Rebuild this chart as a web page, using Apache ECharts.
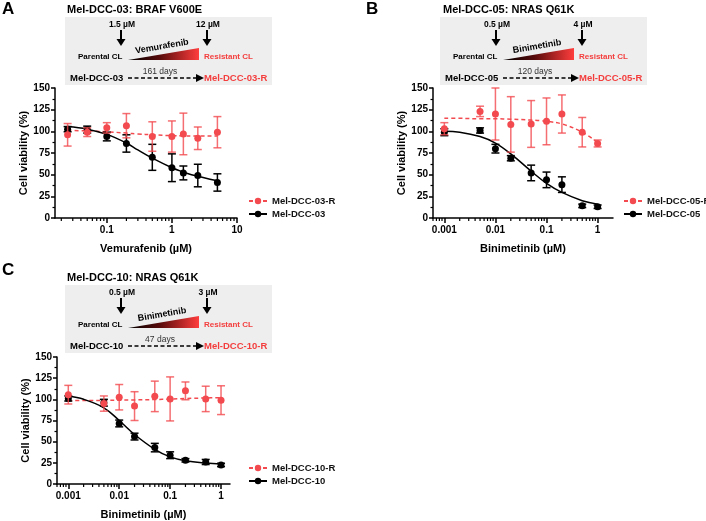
<!DOCTYPE html>
<html>
<head>
<meta charset="utf-8">
<script src="https://cdn.jsdelivr.net/npm/echarts@6/dist/echarts.min.js"></script>
<style>
  html, body { margin: 0; padding: 0; background: #fff; }
  #chart { width: 706px; height: 521px; }
</style>
</head>
<body>
<div id="chart"></div>
<script>
var FONT = "'Liberation Sans', Arial, Helvetica, sans-serif";
var RED = '#f24a4f';
var RED_BAR = 'rgba(242,74,79,0.8)';
var RED_TXT = '#f43d3d';

// panel A - Mel-DCC-03, vemurafenib
var doseA = [0.025, 0.05, 0.1, 0.2, 0.5, 1, 1.5, 2.5, 5];
var viabA_R = [96, 99, 104, 106.5, 94, 94, 97, 92, 99];
var errA_R = [13, 5, 6, 14, 17, 18, 24, 13, 18];
var viabA_P = [102.5, 102, 94, 86, 70, 58, 52, 49, 41];
var errA_P = [3, 4, 5, 10, 15, 16, 8, 13, 10];
var fitXA = [0.025, 0.05, 0.1, 0.2, 0.3, 0.5, 1, 1.5, 2, 5];
var fitA_R = [101, 100.5, 99.5, 98, 97, 96, 95, 94.7, 94.5, 94.5];
var fitA_P = [105.5, 102.5, 96.5, 86.5, 78.5, 69, 58, 53, 50, 43];

// panel B - Mel-DCC-05, binimetinib
var doseB = [0.001, 0.005, 0.01, 0.02, 0.05, 0.1, 0.2, 0.5, 1];
var viabB_R = [103, 123, 120, 108, 108.5, 111.5, 120, 99, 86];
var errB_R = [7, 6, 30, 32, 27, 27, 22, 17, 4];
var viabB_P = [99, 101, 80, 69, 52, 44, 38.5, 14, 13];
var errB_P = [4, 3, 5, 3, 9, 9, 9, 2, 2];
var fitXB = [0.001, 0.002, 0.005, 0.01, 0.02, 0.05, 0.1, 0.2, 0.5, 1];
var fitB_R = [115, 115, 114.5, 114.5, 114, 113, 111.5, 108.5, 99, 87];
var fitB_P = [100, 99, 94, 86.5, 74, 54, 40, 29.5, 20, 16];

// panel C - Mel-DCC-10, binimetinib
var doseC = [0.001, 0.005, 0.01, 0.02, 0.05, 0.1, 0.2, 0.5, 1];
var viabC_R = [105.5, 95, 102.5, 92, 103.5, 100.5, 110, 100.5, 99];
var errC_R = [11, 9, 15, 17, 18, 26, 10.5, 15, 17];
var viabC_P = [101, 96, 71.5, 56, 43, 34, 28, 26, 22.5];
var errC_P = [3, 4, 4, 4, 5, 4, 2, 3, 2];
var fitXC = [0.001, 0.002, 0.005, 0.01, 0.02, 0.05, 0.1, 0.2, 0.5, 1];
var fitC_R = [98.5, 98.6, 98.8, 99, 99.3, 99.8, 100.3, 101, 101.6, 102];
var fitC_P = [103.5, 100, 90, 75, 58.5, 41, 32, 27.5, 24.7, 23.6];

var chart = echarts.init(document.getElementById('chart'));

function errBar(color) {
  return function (params, api) {
    var x = api.value(0), y = api.value(1), e = api.value(2);
    var top = api.coord([x, y + e]);
    var bot = api.coord([x, y - e]);
    var w = 4;
    var st = { stroke: color, lineWidth: 1.5 };
    return {
      type: 'group',
      children: [
        { type: 'line', shape: { x1: top[0], y1: top[1], x2: bot[0], y2: bot[1] }, style: st },
        { type: 'line', shape: { x1: top[0] - w, y1: top[1], x2: top[0] + w, y2: top[1] }, style: st },
        { type: 'line', shape: { x1: bot[0] - w, y1: bot[1], x2: bot[0] + w, y2: bot[1] }, style: st }
      ]
    };
  };
}

function minorTick(params, api) {
  var p = api.coord([api.value(0), 0]);
  return { type: 'line', shape: { x1: p[0], y1: p[1], x2: p[0], y2: p[1] + 3 }, style: { stroke: '#000', lineWidth: 1.2 } };
}

// minor ticks of a log axis: 2..9 of every decade inside the range
function logMinors(min, max) {
  var out = [];
  for (var d = Math.floor(Math.log10(min)); d <= Math.ceil(Math.log10(max)); d++) {
    for (var k = 2; k <= 9; k++) {
      var v = k * Math.pow(10, d);
      if (v > min && v < max) out.push([v, 0]);
    }
  }
  return out;
}

var grids = [], xAxes = [], yAxes = [], series = [], legends = [], graphics = [];

function panel(p) {
  var i = grids.length;
  grids.push({ left: p.grid[0], top: p.grid[1], width: p.grid[2], height: p.grid[3] });
  xAxes.push({
    gridIndex: i, type: 'log', logBase: 10, min: p.xmin, max: p.xmax,
    name: p.xname, nameLocation: 'middle', nameGap: 25,
    nameTextStyle: { fontFamily: FONT, fontWeight: 'bold', fontSize: 11, color: '#000' },
    axisLine: { lineStyle: { color: '#000', width: 1.5 } },
    axisTick: { length: 5, lineStyle: { color: '#000', width: 1.5 } },
    axisLabel: {
      showMinLabel: false, showMaxLabel: p.showMax, margin: 7,
      fontFamily: FONT, fontWeight: 'bold', fontSize: 10, color: '#000',
      formatter: function (v) { return String(+(+v).toPrecision(6)); }
    },
    splitLine: { show: false }
  });
  yAxes.push({
    gridIndex: i, type: 'value', min: 0, max: 150, interval: 25,
    name: 'Cell viability (%)', nameLocation: 'middle', nameGap: 19,
    nameTextStyle: { fontFamily: FONT, fontWeight: 'bold', fontSize: 11, color: '#000' },
    axisLine: { show: true, lineStyle: { color: '#000', width: 1.5 } },
    axisTick: { show: true, length: 4, lineStyle: { color: '#000', width: 1.5 } },
    minorTick: { show: true, splitNumber: 2, length: 2.5, lineStyle: { color: '#000', width: 1.2 } },
    axisLabel: { margin: 5, fontFamily: FONT, fontWeight: 'bold', fontSize: 10, color: '#000' },
    splitLine: { show: false }
  });
  var ax = { xAxisIndex: i, yAxisIndex: i };
  function pts(xs, ys) { return xs.map(function (x, j) { return [x, ys[j]]; }); }
  function pe(xs, ys, es) { return xs.map(function (x, j) { return [x, ys[j], es[j]]; }); }
  series.push(Object.assign({
    type: 'line', name: p.rName, data: pts(p.fitX, p.fitR), smooth: 0.4,
    symbol: 'circle', symbolSize: 7, showSymbol: false,
    itemStyle: { color: RED }, lineStyle: { color: RED, width: 1.5, type: [4, 3] }, z: 2
  }, ax));
  series.push(Object.assign({
    type: 'line', name: p.pName, data: pts(p.fitX, p.fitP), smooth: 0.4,
    symbol: 'circle', symbolSize: 7, showSymbol: false,
    itemStyle: { color: '#000' }, lineStyle: { color: '#000', width: 1.5 }, z: 2
  }, ax));
  series.push(Object.assign({
    type: 'custom', name: p.pName + ' sd', data: pe(p.dose, p.viabP, p.errP),
    renderItem: errBar('#000'), encode: { x: 0, y: 1 }, clip: false, z: 3
  }, ax));
  series.push(Object.assign({
    type: 'scatter', name: p.pName + ' mean', data: pts(p.dose, p.viabP),
    symbol: 'circle', symbolSize: 7, itemStyle: { color: '#000', opacity: 1 }, z: 4
  }, ax));
  series.push(Object.assign({
    type: 'custom', name: p.rName + ' sd', data: pe(p.dose, p.viabR, p.errR),
    renderItem: errBar(RED_BAR), encode: { x: 0, y: 1 }, clip: false, z: 5
  }, ax));
  series.push(Object.assign({
    type: 'scatter', name: p.rName + ' mean', data: pts(p.dose, p.viabR),
    symbol: 'circle', symbolSize: 7, itemStyle: { color: RED, opacity: 1 }, z: 6
  }, ax));
  series.push(Object.assign({
    type: 'custom', name: 'minor' + i, data: logMinors(p.xmin, p.xmax),
    renderItem: minorTick, encode: { x: 0, y: 1 }, clip: false, silent: true, z: 1
  }, ax));
  legends.push({
    data: [p.rName, p.pName], orient: 'vertical', left: p.legend[0], top: p.legend[1],
    padding: 0, itemWidth: 18, itemHeight: 8, itemGap: 3, selectedMode: false,
    textStyle: { fontFamily: FONT, fontWeight: 'bold', fontSize: 9.5, color: '#111', overflow: 'none' }
  });
  boxGraphics(p);
}

function txt(x, y, s, font, color, align, rot) {
  return {
    type: 'text', x: x, y: y, rotation: rot || 0, silent: true,
    style: { text: s, x: 0, y: 0, font: font, fill: color || '#000', textAlign: align || 'left', textVerticalAlign: 'middle' }
  };
}

function downArrow(x, y) {
  return [
    { type: 'line', silent: true, shape: { x1: x, y1: y, x2: x, y2: y + 10 }, style: { stroke: '#000', lineWidth: 2 } },
    { type: 'polygon', silent: true, shape: { points: [[x - 4.5, y + 9], [x + 4.5, y + 9], [x, y + 16]] }, style: { fill: '#000' } }
  ];
}

function boxGraphics(p) {
  var dx = p.off[0], dy = p.off[1];
  var g = [];
  g.push(txt(p.letter[0], p.letter[1], p.letter[2], 'bold 17px ' + FONT, '#000'));
  g.push(txt(p.titleX, 10 + dy, p.title, 'bold 11px ' + FONT, '#000'));
  g.push({ type: 'rect', silent: true, shape: { x: 65 + dx, y: 17 + dy, width: 207, height: 68 }, style: { fill: '#eeeeee' } });
  g.push(txt(122 + dx, 25 + dy, p.dose1, 'bold 8.5px ' + FONT, '#000', 'center'));
  g.push(txt(208 + dx, 25 + dy, p.dose2, 'bold 8.5px ' + FONT, '#000', 'center'));
  g = g.concat(downArrow(121 + dx, 30 + dy), downArrow(207 + dx, 30 + dy));
  g.push(txt(78 + dx, 57 + dy, 'Parental CL', 'bold 8px ' + FONT, '#000'));
  g.push({
    type: 'polygon', silent: true,
    shape: { points: [[128 + dx, 60 + dy], [199 + dx, 48 + dy], [199 + dx, 60 + dy]] },
    style: { fill: new echarts.graphic.LinearGradient(0, 0, 1, 0, [
      { offset: 0, color: '#000000' }, { offset: 0.45, color: '#5a0b0b' }, { offset: 1, color: '#ff3d3d' }
    ]) }
  });
  g.push(txt(162 + dx, 46.5 + dy, p.drug, 'bold 9px ' + FONT, '#000', 'center', 0.17));
  g.push(txt(204 + dx, 57 + dy, 'Resistant CL', 'bold 8px ' + FONT, RED_TXT));
  g.push(txt(70 + dx, 78 + dy, p.pName, 'bold 9.5px ' + FONT, '#000'));
  g.push({ type: 'line', silent: true, shape: { x1: 128 + dx, y1: 78 + dy, x2: 197 + dx, y2: 78 + dy }, style: { stroke: '#000', lineWidth: 1.5, lineDash: [4, 2.5] } });
  g.push({ type: 'polygon', silent: true, shape: { points: [[196 + dx, 74 + dy], [204 + dx, 78 + dy], [196 + dx, 82 + dy]] }, style: { fill: '#000' } });
  g.push(txt(160 + dx, 72 + dy, p.days, '8.5px ' + FONT, '#333', 'center'));
  g.push(txt(204 + dx, 78 + dy, p.rName, 'bold 9.5px ' + FONT, RED_TXT));
  graphics = graphics.concat(g);
}

panel({
  grid: [55, 88, 182, 130], xmin: 0.016, xmax: 10, showMax: true,
  xname: 'Vemurafenib (\u00b5M)', rName: 'Mel-DCC-03-R', pName: 'Mel-DCC-03',
  dose: doseA, viabR: viabA_R, errR: errA_R, viabP: viabA_P, errP: errA_P,
  fitX: fitXA, fitR: fitA_R, fitP: fitA_P, legend: [248, 196],
  off: [0, 0], letter: [2, 9, 'A'], titleX: 67, title: 'Mel-DCC-03: BRAF V600E',
  dose1: '1.5 \u00b5M', dose2: '12 \u00b5M', drug: 'Vemurafenib', days: '161 days'
});
panel({
  grid: [433, 88, 180, 130], xmin: 0.0006, xmax: 2, showMax: false,
  xname: 'Binimetinib (\u00b5M)', rName: 'Mel-DCC-05-R', pName: 'Mel-DCC-05',
  dose: doseB, viabR: viabB_R, errR: errB_R, viabP: viabB_P, errP: errB_P,
  fitX: fitXB, fitR: fitB_R, fitP: fitB_P, legend: [623, 196],
  off: [375, 0], letter: [366, 9, 'B'], titleX: 443, title: 'Mel-DCC-05: NRAS Q61K',
  dose1: '0.5 \u00b5M', dose2: '4 \u00b5M', drug: 'Binimetinib', days: '120 days'
});
panel({
  grid: [57, 357, 173, 129], xmin: 0.0006, xmax: 1.5, showMax: false,
  xname: 'Binimetinib (\u00b5M)', rName: 'Mel-DCC-10-R', pName: 'Mel-DCC-10',
  dose: doseC, viabR: viabC_R, errR: errC_R, viabP: viabC_P, errP: errC_P,
  fitX: fitXC, fitR: fitC_R, fitP: fitC_P, legend: [248, 463],
  off: [0, 268], letter: [2, 270, 'C'], titleX: 67, title: 'Mel-DCC-10: NRAS Q61K',
  dose1: '0.5 \u00b5M', dose2: '3 \u00b5M', drug: 'Binimetinib', days: '47 days'
});

var option = {
  animation: false,
  backgroundColor: '#fff',
  textStyle: { fontFamily: FONT },
  grid: grids,
  xAxis: xAxes,
  yAxis: yAxes,
  legend: legends,
  series: series,
  graphic: { elements: graphics }
};

option && chart.setOption(option);
</script>
</body>
</html>
